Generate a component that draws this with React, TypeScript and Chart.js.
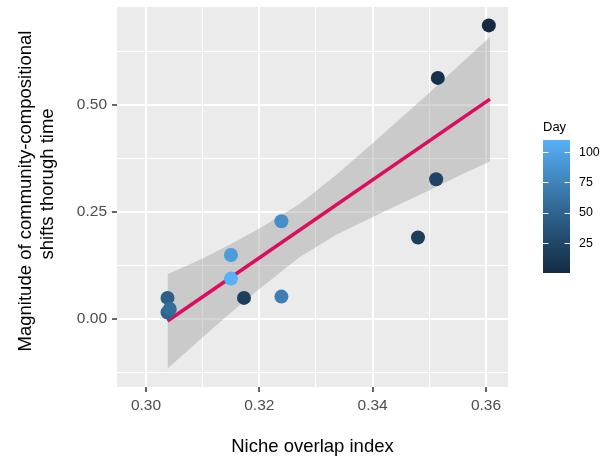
import React, { useEffect, useRef } from "react";
import { Chart, registerables } from "chart.js";
Chart.register(...registerables);

// ---- data ----
const nicheOverlap = [0.3605, 0.3515, 0.3512, 0.348, 0.3239, 0.3239, 0.3173, 0.315, 0.315, 0.3038, 0.3038, 0.3042];
const compositionalShift = [0.685, 0.5625, 0.326, 0.19, 0.228, 0.052, 0.049, 0.149, 0.094, 0.049, 0.015, 0.023];
const day = [0, 6, 22, 17, 84, 72, 18, 94, 110, 46, 50, 57];

const fitX = [0.3038, 0.3607];
const fitY = [-0.005, 0.513];

const bandX = [0.3038, 0.31, 0.315, 0.32, 0.3271, 0.3335, 0.34, 0.35, 0.3555, 0.3607];
const bandUpper = [0.104, 0.141, 0.175, 0.211, 0.268, 0.335, 0.41, 0.528, 0.595, 0.658];
const bandLower = [-0.116, -0.043, 0.015, 0.07, 0.144, 0.196, 0.238, 0.3, 0.336, 0.3675];

const xMajorTicks = [0.3, 0.32, 0.34, 0.36];
const xMinorTicks = [0.31, 0.33, 0.35];
const yMajorTicks = [0, 0.25, 0.5];
const yMinorTicks = [-0.125, 0.125, 0.375, 0.625];
const dayTicks = [25, 50, 75, 100];
const dayRange = [0, 110];

const xLabel = "Niche overlap index";
const yLabelLines = ["Magnitude of community-compositional", "shifts thorugh time"];
const legendTitle = "Day";

const FONT = "'Liberation Sans', Arial, Helvetica, sans-serif";
const LOW = "#132B43";
const HIGH = "#56B1F7";

// ---- colour helpers (Lab interpolation like ggplot2) ----
function hexToRgb(h: string) {
  const n = parseInt(h.slice(1), 16);
  return [(n >> 16) & 255, (n >> 8) & 255, n & 255];
}
function lin(c: number) {
  c /= 255;
  return c <= 0.04045 ? c / 12.92 : Math.pow((c + 0.055) / 1.055, 2.4);
}
function delin(c: number) {
  const v = c <= 0.0031308 ? 12.92 * c : 1.055 * Math.pow(c, 1 / 2.4) - 0.055;
  return Math.max(0, Math.min(255, Math.round(v * 255)));
}
function rgbToLab(rgb: number[]) {
  const R = lin(rgb[0]), G = lin(rgb[1]), B = lin(rgb[2]);
  const X = (0.4124 * R + 0.3576 * G + 0.1805 * B) / 0.95047;
  const Y = 0.2126 * R + 0.7152 * G + 0.0722 * B;
  const Z = (0.0193 * R + 0.1192 * G + 0.9505 * B) / 1.08883;
  const f = (t: number) => (t > 0.008856 ? Math.cbrt(t) : 7.787 * t + 16 / 116);
  return [116 * f(Y) - 16, 500 * (f(X) - f(Y)), 200 * (f(Y) - f(Z))];
}
function labToRgb(lab: number[]) {
  const fy = (lab[0] + 16) / 116;
  const fx = fy + lab[1] / 500;
  const fz = fy - lab[2] / 200;
  const inv = (t: number) => (t * t * t > 0.008856 ? t * t * t : (t - 16 / 116) / 7.787);
  const X = inv(fx) * 0.95047, Y = inv(fy), Z = inv(fz) * 1.08883;
  const R = 3.2406 * X - 1.5372 * Y - 0.4986 * Z;
  const G = -0.9689 * X + 1.8758 * Y + 0.0415 * Z;
  const B = 0.0557 * X - 0.204 * Y + 1.057 * Z;
  return `rgb(${delin(R)},${delin(G)},${delin(B)})`;
}
const labLow = rgbToLab(hexToRgb(LOW));
const labHigh = rgbToLab(hexToRgb(HIGH));
function dayColor(d: number) {
  const t = Math.max(0, Math.min(1, (d - dayRange[0]) / (dayRange[1] - dayRange[0])));
  return labToRgb(labLow.map((v, i) => v + (labHigh[i] - v) * t));
}

const near = (a: number, list: number[]) => list.some((v) => Math.abs(v - a) < 1e-9);

const decorPlugin = {
  id: "decor",
  beforeDraw(chart: any) {
    const { ctx, chartArea } = chart;
    ctx.save();
    ctx.fillStyle = "#EBEBEB";
    ctx.fillRect(chartArea.left, chartArea.top, chartArea.right - chartArea.left, chartArea.bottom - chartArea.top);
    ctx.restore();
  },
  afterDraw(chart: any) {
    const { ctx, chartArea } = chart;
    ctx.save();
    ctx.fillStyle = "#000000";
    // x title
    ctx.font = `18.5px ${FONT}`;
    ctx.textAlign = "center";
    ctx.textBaseline = "alphabetic";
    ctx.fillText(xLabel, (chartArea.left + chartArea.right) / 2, 452);
    // y title
    const yCenters = [[26, 191], [48, 184]];
    yLabelLines.forEach((line, i) => {
      ctx.save();
      ctx.translate(yCenters[i][0], yCenters[i][1]);
      ctx.rotate(-Math.PI / 2);
      ctx.textBaseline = "middle";
      ctx.fillText(line, 0, 0);
      ctx.restore();
    });
    // colour bar legend
    const bx = 543, bw = 27, top = 140, bottom = 273;
    ctx.font = `13px ${FONT}`;
    ctx.textAlign = "left";
    ctx.textBaseline = "alphabetic";
    ctx.fillText(legendTitle, bx, 130.5);
    const grad = ctx.createLinearGradient(0, bottom, 0, top);
    for (let i = 0; i <= 20; i++) {
      const d = dayRange[0] + ((dayRange[1] - dayRange[0]) * i) / 20;
      grad.addColorStop(i / 20, dayColor(d));
    }
    ctx.fillStyle = grad;
    ctx.fillRect(bx, top, bw, bottom - top);
    const yOf = (d: number) => bottom - ((d - dayRange[0]) / (dayRange[1] - dayRange[0])) * (bottom - top);
    ctx.strokeStyle = "#FFFFFF";
    ctx.lineWidth = 1;
    ctx.font = `12.4px ${FONT}`;
    ctx.fillStyle = "#000000";
    ctx.textBaseline = "middle";
    dayTicks.forEach((d) => {
      const y = Math.round(yOf(d)) + 0.5;
      ctx.beginPath();
      ctx.moveTo(bx, y);
      ctx.lineTo(bx + 5.4, y);
      ctx.moveTo(bx + bw - 5.4, y);
      ctx.lineTo(bx + bw, y);
      ctx.stroke();
      ctx.fillText(String(d), 579, yOf(d) + 0.5);
    });
    ctx.restore();
  },
};

export default function App() {
  const ref = useRef<HTMLCanvasElement | null>(null);
  useEffect(() => {
    document.body.style.margin = "0";
    const canvas = ref.current;
    if (!canvas) return;
    const points = nicheOverlap.map((x, i) => ({ x, y: compositionalShift[i] }));
    const colors = day.map(dayColor);
    const chart = new Chart(canvas, {
      type: "scatter",
      data: {
        datasets: [
          {
            type: "line",
            data: bandX.map((x, i) => ({ x, y: bandUpper[i] })),
            borderWidth: 0,
            borderColor: "rgba(0,0,0,0)",
            backgroundColor: "rgba(153,153,153,0.4)",
            pointRadius: 0,
            fill: 1,
            order: 3,
          } as any,
          {
            type: "line",
            data: bandX.map((x, i) => ({ x, y: bandLower[i] })),
            borderWidth: 0,
            borderColor: "rgba(0,0,0,0)",
            pointRadius: 0,
            fill: false,
            order: 4,
          } as any,
          {
            type: "line",
            data: fitX.map((x, i) => ({ x, y: fitY[i] })),
            borderColor: "#DC0D5F",
            borderWidth: 3.6,
            pointRadius: 0,
            fill: false,
            order: 2,
          } as any,
          {
            data: points,
            backgroundColor: colors,
            borderColor: colors,
            borderWidth: 0,
            pointRadius: 7,
            pointHoverRadius: 7,
            order: 1,
          },
        ],
      },
      options: {
        responsive: false,
        maintainAspectRatio: false,
        animation: false,
        events: [],
        layout: { padding: { top: 5, right: 94, left: 0, bottom: 0 } },
        plugins: { legend: { display: false }, tooltip: { enabled: false } },
        scales: {
          x: {
            type: "linear",
            min: 0.29489,
            max: 0.36388,
            afterBuildTicks: (s: any) => {
              s.ticks = [...xMajorTicks, ...xMinorTicks].sort((a, b) => a - b).map((v) => ({ value: v }));
            },
            afterFit: (s: any) => {
              s.height = 72;
              s.paddingLeft = 0;
              s.paddingRight = 0;
            },
            ticks: {
              autoSkip: false,
              maxRotation: 0,
              minRotation: 0,
              padding: 4,
              color: "#4D4D4D",
              font: { family: FONT, size: 15.5 },
              callback: (v: any) => (near(Number(v), xMajorTicks) ? Number(v).toFixed(2) : ""),
            },
            grid: {
              color: "#FFFFFF",
              lineWidth: (c: any) => (c.tick && near(c.tick.value, xMajorTicks) ? 2 : 1),
              tickLength: 5,
              tickWidth: (c: any) => (c.tick && near(c.tick.value, xMajorTicks) ? 1.5 : 0),
              tickColor: (c: any) => (c.tick && near(c.tick.value, xMajorTicks) ? "#333333" : "rgba(0,0,0,0)"),
            },
            border: { display: false },
          },
          y: {
            type: "linear",
            min: -0.159,
            max: 0.728,
            afterBuildTicks: (s: any) => {
              s.ticks = [...yMajorTicks, ...yMinorTicks].sort((a, b) => a - b).map((v) => ({ value: v }));
            },
            afterFit: (s: any) => {
              s.width = 117;
              s.paddingTop = 0;
              s.paddingBottom = 0;
            },
            ticks: {
              autoSkip: false,
              padding: 5,
              color: "#4D4D4D",
              font: { family: FONT, size: 15.5 },
              callback: (v: any) => (near(Number(v), yMajorTicks) ? Number(v).toFixed(2) : ""),
            },
            grid: {
              color: "#FFFFFF",
              lineWidth: (c: any) => (c.tick && near(c.tick.value, yMajorTicks) ? 2 : 1),
              tickLength: 5,
              tickWidth: (c: any) => (c.tick && near(c.tick.value, yMajorTicks) ? 1.5 : 0),
              tickColor: (c: any) => (c.tick && near(c.tick.value, yMajorTicks) ? "#333333" : "rgba(0,0,0,0)"),
            },
            border: { display: false },
          },
        },
      },
      plugins: [decorPlugin],
    } as any);
    return () => chart.destroy();
  }, []);
  return <canvas ref={ref} width={602} height={459} style={{ display: "block", width: 602, height: 459 }} />;
}
